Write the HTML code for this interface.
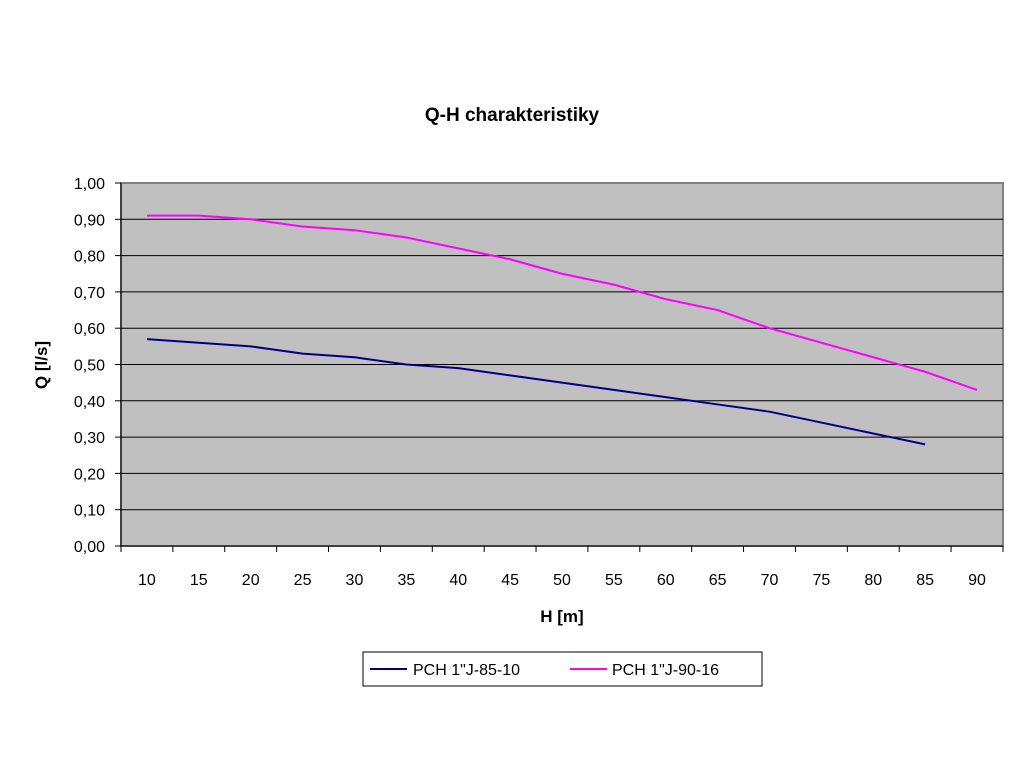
<!DOCTYPE html>
<html><head><meta charset="utf-8"><style>
body{margin:0;background:#fff;}
text{font-family:"Liberation Sans",Arial,sans-serif;}
</style></head><body>
<svg width="1024" height="768" xmlns="http://www.w3.org/2000/svg">
<rect width="1024" height="768" fill="#fff"/>
<text x="512" y="121" text-anchor="middle" font-size="19" font-weight="bold">Q-H charakteristiky</text>
<rect x="121" y="183" width="882" height="363" fill="#c0c0c0" stroke="#808080" stroke-width="2"/>
<g stroke="#000" stroke-width="1">
<line x1="121" y1="219.3" x2="1003" y2="219.3"/><line x1="121" y1="255.6" x2="1003" y2="255.6"/>
<line x1="121" y1="291.9" x2="1003" y2="291.9"/><line x1="121" y1="328.2" x2="1003" y2="328.2"/>
<line x1="121" y1="364.5" x2="1003" y2="364.5"/><line x1="121" y1="400.8" x2="1003" y2="400.8"/>
<line x1="121" y1="437.1" x2="1003" y2="437.1"/><line x1="121" y1="473.4" x2="1003" y2="473.4"/>
<line x1="121" y1="509.7" x2="1003" y2="509.7"/>
<line x1="121" y1="183" x2="121" y2="546"/><line x1="121" y1="546" x2="1003" y2="546"/>
</g>
<g stroke="#000" stroke-width="1" id="ticks"></g>
<g font-size="16" text-anchor="end" id="yl"></g>
<g font-size="16" text-anchor="middle" id="xl"></g>
<text x="562" y="622" text-anchor="middle" font-size="17" font-weight="bold">H [m]</text>
<text transform="translate(47,365) rotate(-90)" text-anchor="middle" font-size="17" font-weight="bold">Q [l/s]</text>
<polyline id="p1" fill="none" stroke="#000080" stroke-width="2"/>
<polyline id="p2" fill="none" stroke="#ff00ff" stroke-width="2"/>
<rect x="363" y="652" width="399" height="34" fill="#fff" stroke="#000" stroke-width="1"/>
<line x1="370" y1="669" x2="407" y2="669" stroke="#000080" stroke-width="2"/>
<text x="413" y="675" font-size="16">PCH 1"J-85-10</text>
<line x1="570" y1="669" x2="607" y2="669" stroke="#ff00ff" stroke-width="2"/>
<text x="612" y="675" font-size="16">PCH 1"J-90-16</text>
<script>
var ns="http://www.w3.org/2000/svg",L=121,W=51.88,T=183,H=363;
function el(g,t,a,s){var e=document.createElementNS(ns,t);for(var k in a)e.setAttribute(k,a[k]);if(s)e.textContent=s;document.getElementById(g).appendChild(e);}
for(var i=0;i<=10;i++){var y=546-i*36.3;el("ticks","line",{x1:115,y1:y,x2:121,y2:y});el("yl","text",{x:105,y:y+6},(i/10).toFixed(2).replace(".",","));}
for(var i=0;i<=17;i++){var x=L+i*W;el("ticks","line",{x1:x,y1:546,x2:x,y2:552});if(i<17)el("xl","text",{x:x+W/2,y:585},10+5*i);}
var a=[.57,.56,.55,.53,.52,.50,.49,.47,.45,.43,.41,.39,.37,.34,.31,.28],b=[.91,.91,.90,.88,.87,.85,.82,.79,.75,.72,.68,.65,.60,.56,.52,.48,.43];
function pts(d){return d.map(function(v,i){return (L+W/2+i*W)+","+(546-v*363)}).join(" ");}
document.getElementById("p1").setAttribute("points",pts(a));
document.getElementById("p2").setAttribute("points",pts(b));
</script>
</svg>
</body></html>
